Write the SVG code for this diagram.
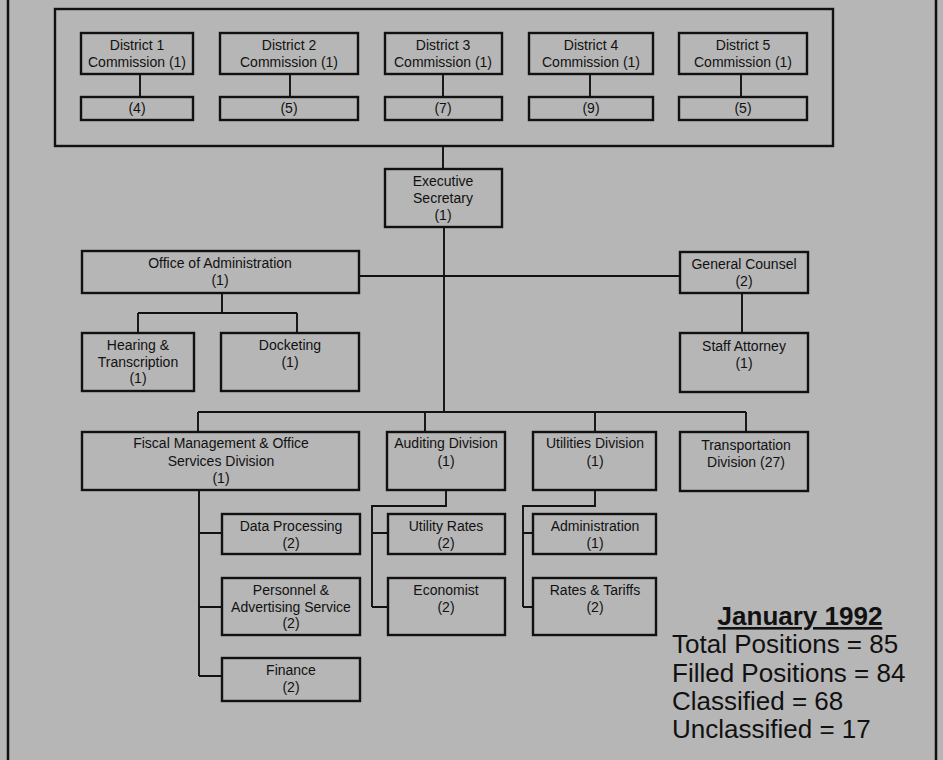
<svg xmlns="http://www.w3.org/2000/svg" width="943" height="760" viewBox="0 0 943 760">
<style>
.bx{fill:none;stroke:#111;stroke-width:2.4}
.cn{fill:none;stroke:#111;stroke-width:1.9}
text{font-family:"Liberation Sans",Arial,Helvetica,sans-serif;font-size:14px;fill:#111;text-anchor:middle}
.big{font-size:26px;text-anchor:start}
.hd{font-size:26px;font-weight:bold;text-decoration:underline}
</style>
<rect x="0" y="0" width="943" height="760" fill="#b6b6b6"/>
<g id="frame">
<line x1="8" y1="0" x2="8" y2="760" stroke="#111" stroke-width="2.5"/>
<line x1="936" y1="0" x2="936" y2="760" stroke="#111" stroke-width="2.5"/>
</g>
<g id="connectors">
<path class="cn" d="M140 74V97M290 74V97M443 74V97M590 74V97M741 74V97"/>
<path class="cn" d="M443 146V169M444 227V412"/>
<path class="cn" d="M359 276H680M742 293V333"/>
<path class="cn" d="M222 293V313M138 313H297M138 313V333M297 313V333"/>
<path class="cn" d="M198 412H746M198 412V432M425 412V432M595 412V432M746 412V432"/>
<path class="cn" d="M199 490V676M199 533H222M199 607H222M199 676H222"/>
<path class="cn" d="M446 490V506H372V607M372 533H388M372 607H388"/>
<path class="cn" d="M595 490V506H523V607M523 533H533M523 607H533"/>
</g>
<g id="commissions">
<rect class="bx" x="55" y="9" width="778" height="137"/>
</g>
<g id="d1"><rect class="bx" x="81" y="33" width="112" height="41"/><text x="137" y="50">District 1</text><text x="137" y="67">Commission (1)</text></g>
<g id="d1s"><rect class="bx" x="81" y="97" width="112" height="23"/><text x="137" y="113">(4)</text></g>
<g id="d2"><rect class="bx" x="220" y="33" width="138" height="41"/><text x="289" y="50">District 2</text><text x="289" y="67">Commission (1)</text></g>
<g id="d2s"><rect class="bx" x="220" y="97" width="138" height="23"/><text x="289" y="113">(5)</text></g>
<g id="d3"><rect class="bx" x="385" y="33" width="117" height="41"/><text x="443" y="50">District 3</text><text x="443" y="67">Commission (1)</text></g>
<g id="d3s"><rect class="bx" x="385" y="97" width="117" height="23"/><text x="443" y="113">(7)</text></g>
<g id="d4"><rect class="bx" x="529" y="33" width="124" height="41"/><text x="591" y="50">District 4</text><text x="591" y="67">Commission (1)</text></g>
<g id="d4s"><rect class="bx" x="529" y="97" width="124" height="23"/><text x="591" y="113">(9)</text></g>
<g id="d5"><rect class="bx" x="679" y="33" width="128" height="41"/><text x="743" y="50">District 5</text><text x="743" y="67">Commission (1)</text></g>
<g id="d5s"><rect class="bx" x="679" y="97" width="128" height="23"/><text x="743" y="113">(5)</text></g>
<g id="exec"><rect class="bx" x="385" y="169" width="117" height="58"/><text x="443" y="186">Executive</text><text x="443" y="203">Secretary</text><text x="443" y="220">(1)</text></g>
<g id="oa"><rect class="bx" x="82" y="251" width="277" height="42"/><text x="220" y="268">Office of Administration</text><text x="220" y="285">(1)</text></g>
<g id="gc"><rect class="bx" x="680" y="252" width="128" height="41"/><text x="744" y="269">General Counsel</text><text x="744" y="286">(2)</text></g>
<g id="ht"><rect class="bx" x="82" y="333" width="112" height="58"/><text x="138" y="350">Hearing &amp;</text><text x="138" y="367">Transcription</text><text x="138" y="383">(1)</text></g>
<g id="dk"><rect class="bx" x="221" y="333" width="138" height="58"/><text x="290" y="350">Docketing</text><text x="290" y="367">(1)</text></g>
<g id="sa"><rect class="bx" x="680" y="333" width="128" height="59"/><text x="744" y="351">Staff Attorney</text><text x="744" y="368">(1)</text></g>
<g id="fm"><rect class="bx" x="82" y="432" width="277" height="58"/><text x="221" y="448">Fiscal Management &amp; Office</text><text x="221" y="466">Services Division</text><text x="221" y="483">(1)</text></g>
<g id="ad"><rect class="bx" x="387" y="432" width="118" height="58"/><text x="446" y="448">Auditing Division</text><text x="446" y="466">(1)</text></g>
<g id="ud"><rect class="bx" x="533" y="432" width="123" height="58"/><text x="595" y="448">Utilities Division</text><text x="595" y="466">(1)</text></g>
<g id="td"><rect class="bx" x="680" y="432" width="128" height="59"/><text x="746" y="450">Transportation</text><text x="746" y="467">Division (27)</text></g>
<g id="dp"><rect class="bx" x="222" y="514" width="138" height="40"/><text x="291" y="531">Data Processing</text><text x="291" y="548">(2)</text></g>
<g id="pa"><rect class="bx" x="222" y="578" width="138" height="57"/><text x="291" y="595">Personnel &amp;</text><text x="291" y="612">Advertising Service</text><text x="291" y="628">(2)</text></g>
<g id="fi"><rect class="bx" x="222" y="658" width="138" height="43"/><text x="291" y="675">Finance</text><text x="291" y="692">(2)</text></g>
<g id="ur"><rect class="bx" x="388" y="514" width="117" height="40"/><text x="446" y="531">Utility Rates</text><text x="446" y="548">(2)</text></g>
<g id="ec"><rect class="bx" x="388" y="578" width="117" height="57"/><text x="446" y="595">Economist</text><text x="446" y="612">(2)</text></g>
<g id="adm"><rect class="bx" x="533" y="514" width="123" height="40"/><text x="595" y="531">Administration</text><text x="595" y="548">(1)</text></g>
<g id="rt"><rect class="bx" x="533" y="578" width="123" height="57"/><text x="595" y="595">Rates &amp; Tariffs</text><text x="595" y="612">(2)</text></g>
<g id="summary">
<text class="hd" x="800" y="625">January 1992</text>
<text class="big" x="672" y="653">Total Positions = 85</text>
<text class="big" x="672" y="682">Filled Positions = 84</text>
<text class="big" x="672" y="710">Classified = 68</text>
<text class="big" x="672" y="738">Unclassified = 17</text>
</g>
</svg>
